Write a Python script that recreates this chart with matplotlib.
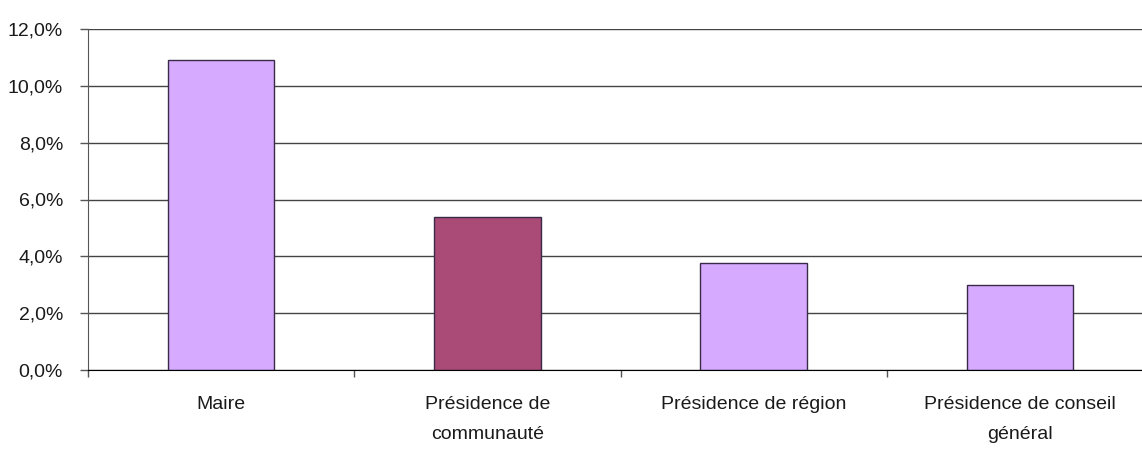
import matplotlib.pyplot as plt
from matplotlib.ticker import FuncFormatter

plt.rcParams['font.family'] = ['Liberation Sans Narrow', 'Liberation Sans', 'DejaVu Sans']

categories = ['Maire', 'Présidence de\ncommunauté', 'Présidence de région',
              'Présidence de conseil\ngénéral']
values = [10.9, 5.38, 3.77, 3.0]
colors = ['#D5AAFF', '#AA4A76', '#D5AAFF', '#D5AAFF']

fig = plt.figure(figsize=(11.42, 4.5), dpi=100)
ax = fig.add_axes([88 / 1142, 80 / 450, 1065 / 1142, 341 / 450])

x = range(len(categories))
ax.bar(x, values, width=0.40, color=colors, edgecolor='#3a2a4a', linewidth=1.0, zorder=3)

ax.set_xlim(-0.5, 3.5)
ax.set_ylim(0, 12)
ax.set_yticks([0, 2, 4, 6, 8, 10, 12])
ax.yaxis.set_major_formatter(FuncFormatter(lambda v, p: f'{v:.1f}%'.replace('.', ',')))
ax.grid(axis='y', color='#444444', linewidth=1.0, zorder=0)

ax.set_xticks(list(x))
ax.set_xticklabels(categories, linespacing=1.95)
ax.set_xticks([-0.5, 0.5, 1.5, 2.5, 3.5], minor=True)
ax.tick_params(axis='x', which='major', length=0, pad=19, labelsize=14, labelcolor='#1a1a1a')
ax.tick_params(axis='x', which='minor', length=5, width=1, color='#555555')
ax.tick_params(axis='y', length=6, width=1, color='#555555', labelsize=14,
               labelcolor='#1a1a1a', pad=12)

for s in ['top', 'right']:
    ax.spines[s].set_visible(False)
ax.spines['left'].set_color('#555555')
ax.spines['bottom'].set_color('#000000')
ax.spines['bottom'].set_zorder(4)

fig.savefig('out.png', dpi=100)
